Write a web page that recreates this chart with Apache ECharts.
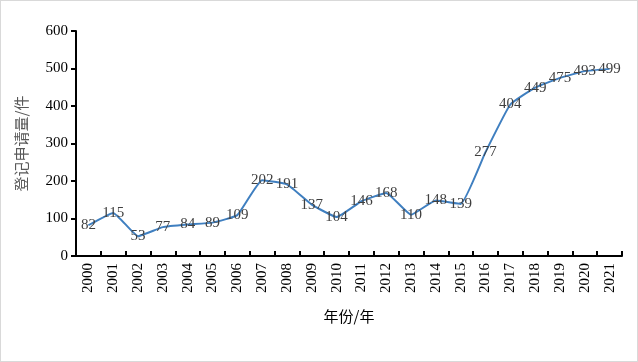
<!DOCTYPE html>
<html><head><meta charset="utf-8">
<script src="https://cdn.jsdelivr.net/npm/echarts@6/dist/echarts.min.js"></script>
<style>html,body{margin:0;padding:0;background:#fff}#c{width:638px;height:362px;box-sizing:border-box;border:1px solid #d9d9d9}</style>
</head><body><div id="c"></div>
<script>
var years = ['2000','2001','2002','2003','2004','2005','2006','2007','2008','2009','2010','2011','2012','2013','2014','2015','2016','2017','2018','2019','2020','2021'];
var counts = [82,115,53,77,84,89,109,202,191,137,104,146,168,110,148,139,277,404,449,475,493,499];
var yTicks = [0,100,200,300,400,500,600];
var chart = echarts.init(document.getElementById('c'));
var serif = '"Liberation Serif", "Times New Roman", serif';
chart.setOption({
  animation: false,
  grid: {left: 75, right: 15, top: 30, bottom: 105},
  xAxis: {
    type: 'category', data: years, boundaryGap: true,
    name: '年份/年', nameLocation: 'middle', nameGap: 53,
    nameTextStyle: {color: '#000', fontSize: 15, fontFamily: '"Noto Sans CJK SC", sans-serif'},
    axisLine: {lineStyle: {color: '#000', width: 2}},
    axisTick: {show: true, inside: true, length: 5, alignWithLabel: false, lineStyle: {color: '#000', width: 2}},
    axisLabel: {rotate: 90, color: '#000', fontSize: 15, fontFamily: serif, margin: 7, interval: 0}
  },
  yAxis: {
    type: 'value', min: yTicks[0], max: yTicks[yTicks.length-1], interval: 100,
    name: '登记申请量/件', nameLocation: 'middle', nameGap: 47, nameRotate: 90,
    nameTextStyle: {color: '#595959', fontSize: 15, fontFamily: '"Noto Sans CJK SC", sans-serif'},
    axisLine: {show: true, lineStyle: {color: '#000', width: 2}},
    axisTick: {show: true, length: 5, lineStyle: {color: '#000', width: 2}},
    splitLine: {show: false},
    axisLabel: {color: '#000', fontSize: 15, fontFamily: serif, margin: 8}
  },
  series: [{
    type: 'line', data: counts, smooth: 0.12, symbol: 'circle', symbolSize: 1, showSymbol: true,
    itemStyle: {opacity: 0},
    lineStyle: {color: '#3f7fc0', width: 2},
    label: {show: true, position: 'inside', color: '#3f3f3f', fontSize: 15, fontFamily: serif, opacity: 1}
  }]
});
</script></body></html>
